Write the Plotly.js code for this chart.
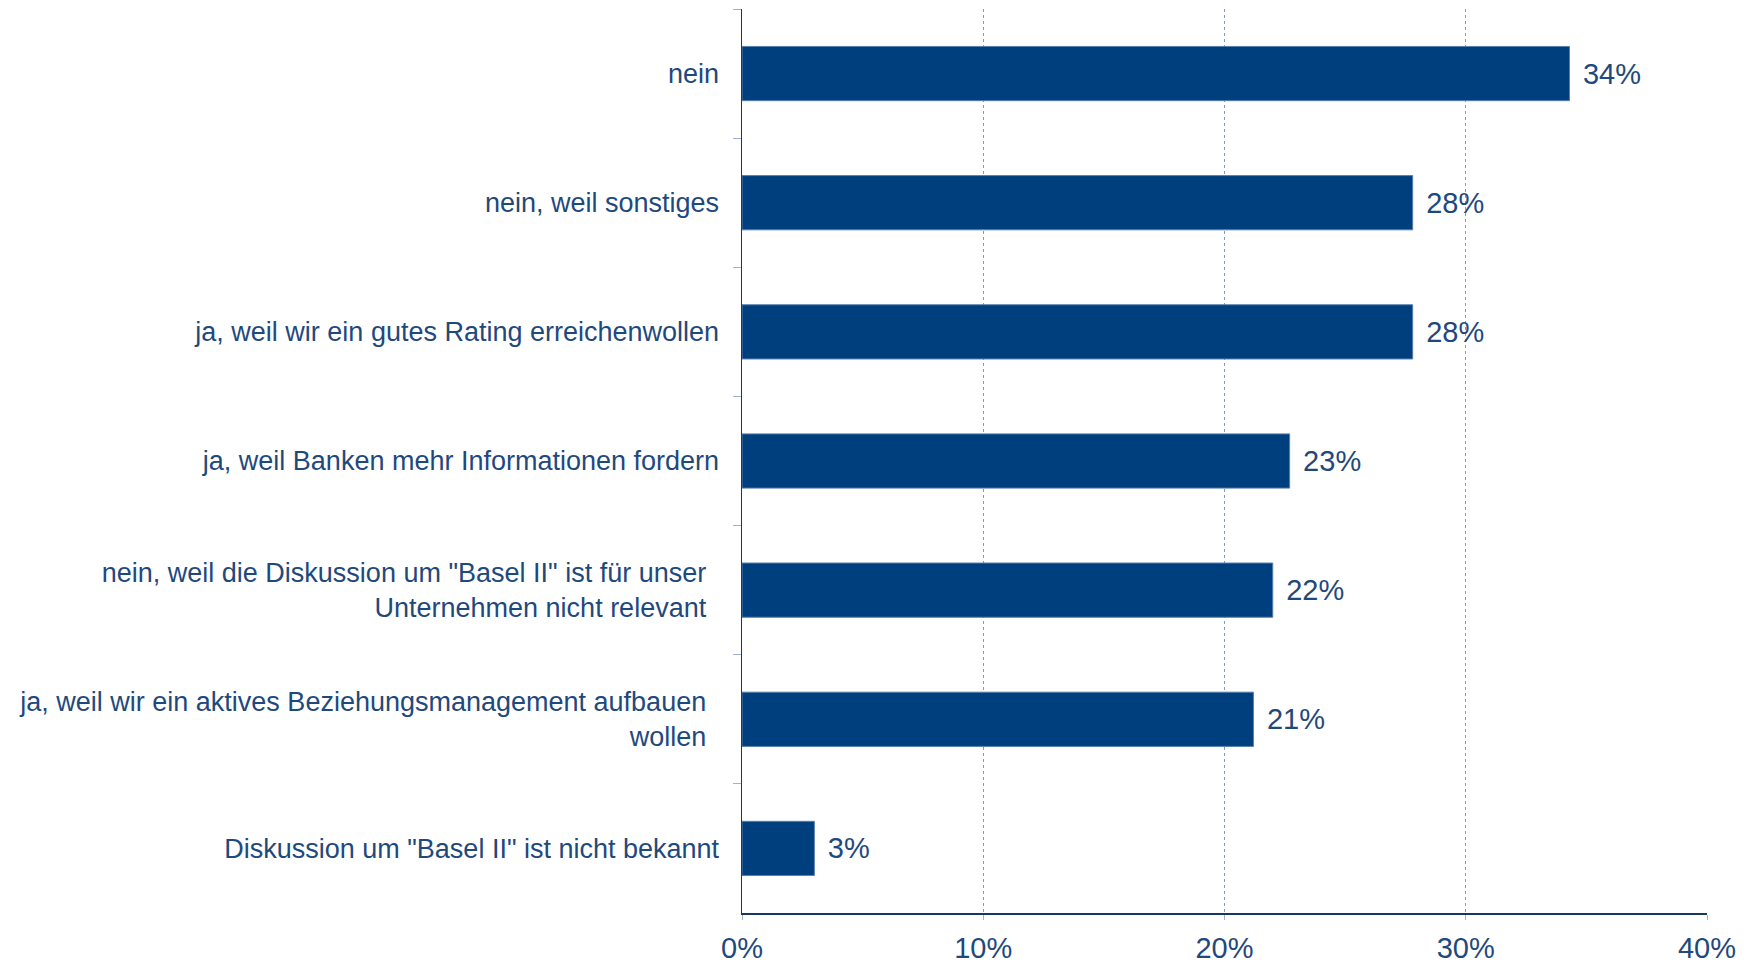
<!DOCTYPE html>
<html>
<head>
<meta charset="utf-8">
<script src="https://cdn.plot.ly/plotly-3.0.1.min.js"></script>
<style>html,body{margin:0;padding:0;background:#fff;}#chart{width:1755px;height:965px;}</style>
</head>
<body>
<div id="chart"></div>
<script>
const categories = [
  "nein",
  "nein, weil sonstiges",
  "ja, weil wir ein gutes Rating erreichenwollen",
  "ja, weil Banken mehr Informationen fordern",
  "nein, weil die Diskussion um \"Basel II\" ist für unser\u00a0\u2009<br>Unternehmen nicht relevant\u00a0\u2009",
  "ja, weil wir ein aktives Beziehungsmanagement aufbauen\u00a0\u2009<br>wollen\u00a0\u2009",
  "Diskussion um \"Basel II\" ist nicht bekannt"
];
const values = [34.3, 27.8, 27.8, 22.7, 22.0, 21.2, 3.0];
const valueLabels = ["34%", "28%", "28%", "23%", "22%", "21%", "3%"];
const xTickValues = [0, 10, 20, 30, 40];
const xTickLabels = ["0%", "10%", "20%", "30%", "40%"];

const textColor = "#1F497D";
const barColor = "#003F7D";

Plotly.newPlot("chart", [{
  type: "bar",
  orientation: "h",
  y: categories,
  x: values,
  text: valueLabels.map(t => "\u00a0\u200a" + t),
  textposition: "outside",
  cliponaxis: false,
  constraintext: "none",
  textfont: {family: "Liberation Sans, Arial, sans-serif", size: 29, color: textColor},
  marker: {color: barColor, line: {color: "#5a7fae", width: 1}},
  hoverinfo: "none"
}], {
  width: 1755,
  height: 965,
  margin: {l: 742, r: 48, t: 9, b: 52},
  paper_bgcolor: "#ffffff",
  plot_bgcolor: "#ffffff",
  bargap: 0.58,
  showlegend: false,
  font: {family: "Liberation Sans, Arial, sans-serif", color: textColor},
  xaxis: {
    range: [0, 40],
    tickvals: xTickValues,
    ticktext: xTickLabels,
    tickfont: {size: 29, color: textColor},
    showgrid: true,
    gridcolor: "#7f9cc4",
    griddash: "dot",
    gridwidth: 1,
    zeroline: false,
    showline: true,
    linecolor: "#17375E",
    linewidth: 1.5,
    ticks: "outside",
    ticklen: 5,
    tickcolor: "#9db3d1",
    ticklabelstandoff: 4,
    fixedrange: true
  },
  yaxis: {
    autorange: "reversed",
    type: "category",
    tickfont: {size: 27, color: textColor},
    showgrid: false,
    zeroline: false,
    showline: true,
    linecolor: "#17375E",
    linewidth: 1.5,
    ticks: "outside",
    tickson: "boundaries",
    ticklen: 8,
    tickcolor: "#9db3d1",
    ticklabelstandoff: 16,
    fixedrange: true
  }
}, {staticPlot: true});
</script>
</body>
</html>
